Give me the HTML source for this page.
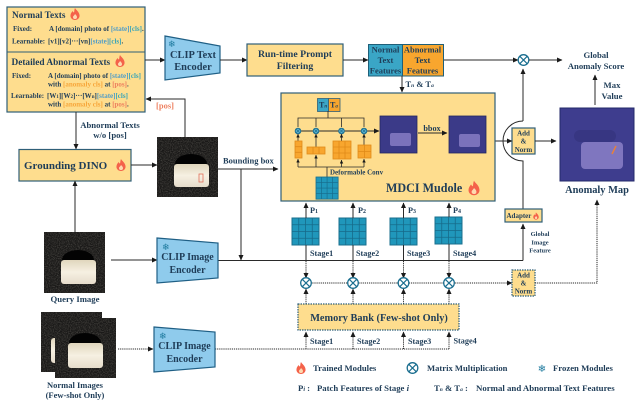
<!DOCTYPE html>
<html><head><meta charset="utf-8"><style>
html,body{margin:0;padding:0;background:#fff}
svg{display:block}
text{font-family:"Liberation Serif",serif;font-weight:bold;fill:#1f3d58}
.l{stroke:#2a2a2a;stroke-width:1;fill:none}
.a{stroke:#2a2a2a;stroke-width:1;fill:none;marker-end:url(#ah)}
.t{stroke:#2a2a2a;stroke-width:.8;fill:none;marker-end:url(#as)}
.d{stroke:#2a2a2a;stroke-width:1;fill:none;stroke-dasharray:1.2 .9}
.da{stroke:#2a2a2a;stroke-width:1;fill:none;stroke-dasharray:1.2 .9;marker-end:url(#ah)}
.y{fill:#fedd8e;stroke:#2f5f78;stroke-width:1.2}
.yd{fill:#fedd8e;stroke:#2f5f78;stroke-width:1.2;stroke-dasharray:1.5 1}
.b{fill:#8fcbec;stroke:#1f5f85;stroke-width:1.2}
.m{text-anchor:middle}
.s{fill:#4f9cc8}.c{fill:#3aa5b8}.o{fill:#f7a63a}.p{fill:#ee8060}
.sf{font-family:"DejaVu Sans",sans-serif;font-weight:normal;fill:#1e7a9e}
</style></head><body>
<svg width="640" height="407" viewBox="0 0 640 407" xmlns="http://www.w3.org/2000/svg">
<defs>
<marker id="ah" markerUnits="userSpaceOnUse" markerWidth="6" markerHeight="6" refX="5" refY="2.5" orient="auto"><path d="M0 0L5.500 2.500L0 5Z" fill="#1a1a1a"/></marker>
<marker id="as" markerUnits="userSpaceOnUse" markerWidth="4" markerHeight="4" refX="3.500" refY="1.750" orient="auto"><path d="M0 0L3.500 1.750L0 3.500Z" fill="#1a1a1a"/></marker>
<filter id="n" x="0" y="0" width="100%" height="100%" color-interpolation-filters="sRGB"><feTurbulence type="fractalNoise" baseFrequency=".9" numOctaves="2" seed="3"/><feColorMatrix values="0 0 0 0 .34  0 0 0 0 .33  0 0 0 0 .31  0 0 0 1.600 -.62"/><feComposite in2="SourceGraphic" operator="over"/></filter>
<linearGradient id="cr" x1="0" y1="0" x2="0" y2="1"><stop offset="0" stop-color="#e0d6bd"/><stop offset=".5" stop-color="#f6f0e2"/><stop offset="1" stop-color="#e6dccb"/></linearGradient>
<g id="fl"><path d="M0 -6C1 -4 4 -2.500 4.500 1C5 4 2.500 6 0 6C-2.500 6 -5 4 -4.500 1C-4.200 -1 -3 -2 -2.500 -3C-2 -2 -1.500 -1.500 -1 -1.500C-.5 -3 -.8 -4.500 0 -6Z" fill="#f4624a"/><path d="M0 0C1 1 2.200 2 2 3.500C1.800 4.800 .8 5 0 5C-1 5 -2 4.500 -2 3.200C-2 2 -.6 1.500 0 0Z" fill="#fdd9b0"/></g>
<g id="gr"><rect width="27" height="27" fill="#2097bb" stroke="#1a6f8e" stroke-width="1"/><path d="M6.750 0V27M13.500 0V27M20.250 0V27M0 6.750H27M0 13.500H27M0 20.250H27" stroke="#176b8a" stroke-width=".8"/></g>
<g id="x"><circle r="5.300" fill="#fff" stroke="#1c6f90" stroke-width="1.300"/><path d="M-3.700 -3.700L3.700 3.700M-3.700 3.700L3.700 -3.700" stroke="#1c6f90" stroke-width="1.200"/></g>
<g id="xs"><circle r="2.800" fill="#5fb4cf" stroke="#1c6f90" stroke-width="1"/><path d="M-2 -2L2 2M-2 2L2 -2" stroke="#1c6f90" stroke-width=".7"/></g>
<g id="hs"><rect width="37" height="37" fill="#3b3a88" stroke="#23265f" stroke-width=".8"/></g>
</defs>
<rect width="640" height="407" fill="#fff"/>

<!-- prompt boxes -->
<rect class="y" x="7" y="7" width="138" height="105"/>
<line x1="7" y1="52" x2="145" y2="52" stroke="#2f5f78" stroke-width="1"/>
<text x="12" y="18" font-size="9.300">Normal Texts</text>
<use href="#fl" x="75" y="14"/>
<text x="13" y="31" font-size="7">Fixed:</text>
<text x="49" y="31" font-size="7">A [domain] photo of <tspan class="s">[state]</tspan><tspan class="c">[cls]</tspan>.</text>
<text x="12" y="43.500" font-size="7">Learnable:</text>
<text x="48" y="43.500" font-size="7">[v1][v2]···[vn]<tspan class="s">[state]</tspan><tspan class="c">[cls]</tspan>.</text>
<text x="11.500" y="65" font-size="9.300">Detailed Abnormal Texts</text>
<use href="#fl" x="120" y="61"/>
<text x="12" y="78" font-size="7">Fixed:</text>
<text x="48" y="78" font-size="7">A [domain] photo of <tspan class="s">[state]</tspan><tspan class="c">[cls]</tspan></text>
<text x="48" y="86.500" font-size="7">with <tspan class="o">[anomaly cls]</tspan> at <tspan class="p">[pos]</tspan>.</text>
<text x="11" y="98" font-size="7">Learnable:</text>
<text x="47" y="98" font-size="7">[W<tspan font-size="5">1</tspan>][W<tspan font-size="5">2</tspan>]···[W<tspan font-size="5">n</tspan>]<tspan class="s">[state]</tspan><tspan class="c">[cls]</tspan></text>
<text x="48" y="106.500" font-size="7">with <tspan class="o">[anomaly cls]</tspan> at <tspan class="p">[pos]</tspan>.</text>

<path class="a" d="M145 60H165"/>
<path class="b" d="M165 36L220 46V73L165 80Z"/>
<text x="168" y="47" font-size="9" class="sf">❄</text>
<text x="193" y="58" font-size="10.400" class="m">CLIP Text</text>
<text x="193" y="70" font-size="10.400" class="m">Encoder</text>
<path class="a" d="M220 60H247"/>
<rect class="y" x="247" y="44" width="96" height="32"/>
<text x="295" y="57" font-size="9.800" class="m">Run-time Prompt</text>
<text x="295" y="69" font-size="9.800" class="m">Filtering</text>
<path class="a" d="M343 60H368"/>
<rect x="368.500" y="44.500" width="34" height="31.500" fill="#3aa6c6" stroke="#1f5f78" stroke-width="1"/>
<rect x="402.500" y="44.500" width="41" height="31.500" fill="#f8a62e" stroke="#1f5f78" stroke-width="1"/>
<g font-size="8.500" text-anchor="middle">
<text x="385.500" y="52.500">Normal</text><text x="385.500" y="63">Text</text><text x="385.500" y="73.500">Features</text>
<text x="422.500" y="52.500">Abnormal</text><text x="422.500" y="63">Text</text><text x="422.500" y="73.500">Features</text>
</g>
<path class="a" d="M402 76V92"/>
<text x="405.500" y="87" font-size="8.500">T<tspan font-size="5.500" font-style="italic">n</tspan> &amp; T<tspan font-size="5.500" font-style="italic">a</tspan></text>
<path class="a" d="M444 60H518"/>
<use href="#x" x="523.500" y="60"/>
<path class="a" d="M529 60H562"/>
<text x="596" y="58" font-size="8.700" class="m">Global</text>
<text x="596" y="69" font-size="8.700" class="m">Anomaly Score</text>
<path class="a" d="M595 105V75"/>
<text x="612" y="88" font-size="8.700" class="m">Max</text>
<text x="612" y="99" font-size="8.700" class="m">Value</text>

<!-- anomaly map -->
<rect x="560" y="108" width="74" height="73" fill="#3e3d8e" stroke="#23296a" stroke-width="1"/>
<rect x="574" y="130" width="42" height="12" rx="6" fill="#373682"/>
<rect x="581" y="142" width="42" height="27" rx="4" fill="#7f76bf"/>
<path d="M612 154L616 146" stroke="#e8803a" stroke-width="1.500"/>
<text x="597" y="193" font-size="10.400" class="m">Anomaly Map</text>

<!-- add norm + arc -->
<path class="a" d="M523 121V69"/>
<path class="l" d="M523 121A20 20 0 0 0 523 161V209"/>
<rect class="y" x="512" y="128" width="23" height="26"/>
<text x="523.500" y="135.500" font-size="7" class="m">Add</text>
<text x="523.500" y="143.500" font-size="7" class="m">&amp;</text>
<text x="523.500" y="152" font-size="7" class="m">Norm</text>
<path class="a" d="M495 141H512"/>
<path class="a" d="M535 141H556"/>
<rect class="y" x="505" y="209" width="37" height="13"/>
<text x="506.500" y="218" font-size="7">Adapter</text>
<g transform="translate(536 216) scale(.6)"><use href="#fl"/></g>
<path class="a" d="M523 260.500V224"/>
<text x="540" y="236" font-size="6.500" class="m">Global</text>
<text x="540" y="244.500" font-size="6.500" class="m">Image</text>
<text x="540" y="252.500" font-size="6.500" class="m">Feature</text>

<!-- MDCI -->
<rect class="y" x="281" y="93" width="214" height="108"/>
<rect x="317.500" y="98.500" width="11" height="13" fill="#3aa6c6" stroke="#2f5f78" stroke-width=".8"/>
<rect x="328.500" y="98.500" width="11.500" height="13" fill="#f8a62e" stroke="#2f5f78" stroke-width=".8"/>
<text x="319" y="107.500" font-size="8">T<tspan font-size="5" font-style="italic">n</tspan></text><text x="330" y="107.500" font-size="8">T<tspan font-size="5" font-style="italic">a</tspan></text>
<path d="M328 111V118M298 127V118H364V127M316 118V127M341.500 118V127" stroke="#2a2a2a" stroke-width=".8" fill="none"/>
<path class="a" d="M295 131H379"/>
<use href="#xs" x="298" y="131"/><use href="#xs" x="316" y="131"/><use href="#xs" x="341.500" y="131"/><use href="#xs" x="364" y="131"/>
<path class="t" d="M298 141V134"/><path class="t" d="M316 147V134"/><path class="t" d="M341.500 141V134"/><path class="t" d="M364 145V134"/>
<path d="M298 167H364M327 167V177" stroke="#2a2a2a" stroke-width=".8" fill="none"/>
<path class="t" d="M298 167V159"/><path class="t" d="M316 167V155"/><path class="t" d="M341.500 167V160"/><path class="t" d="M364 167V159"/>
<g fill="#f8a62e" stroke="#e08a18" stroke-width=".8">
<rect x="295" y="141" width="7" height="17"/><path d="M295 146.700H302M295 152.300H302" fill="none"/>
<rect x="307" y="147" width="18" height="7"/><path d="M313 147V154M319 147V154" fill="none"/>
<rect x="333" y="141" width="18" height="18"/><path d="M339 141V159M345 141V159M333 147H351M333 153H351" fill="none"/>
<rect x="358" y="145" width="13" height="13"/><path d="M364.500 145V158M358 151.500H371" fill="none"/>
</g>
<g transform="translate(316 177) scale(.82)"><use href="#gr"/></g>
<text x="330" y="174.500" font-size="7">Deformable Conv</text>
<use href="#hs" x="380" y="116"/>
<rect x="390" y="133" width="21" height="13" rx="2" fill="#7b72bb"/>
<path class="a" d="M418 133H447"/>
<text x="432" y="131" font-size="8.200" class="m">bbox</text>
<use href="#hs" x="449" y="116"/>
<rect x="459" y="134" width="21" height="13" rx="2" fill="#7b72bb"/>
<text x="386" y="192" font-size="12.100">MDCI Mudole</text>
<g transform="translate(474 188) scale(1.200)"><use href="#fl"/></g>

<!-- patches -->
<use href="#gr" x="292" y="218"/><use href="#gr" x="339" y="218"/><use href="#gr" x="390" y="218"/><use href="#gr" x="435" y="217"/>
<g font-size="8.200">
<text x="310" y="213">P<tspan font-size="6">1</tspan></text><text x="358" y="213">P<tspan font-size="6">2</tspan></text><text x="408" y="213">P<tspan font-size="6">3</tspan></text><text x="453" y="213">P<tspan font-size="6">4</tspan></text>
<text x="310" y="256">Stage1</text><text x="356" y="256">Stage2</text><text x="407" y="256">Stage3</text><text x="453" y="256">Stage4</text>
<text x="310" y="344">Stage1</text><text x="357" y="344">Stage2</text><text x="408" y="344">Stage3</text><text x="453.500" y="343.500">Stage4</text>
</g>
<path class="a" d="M306 218V203"/><path class="a" d="M353 218V203"/><path class="a" d="M403.500 218V203"/><path class="a" d="M449 217V203"/>
<path class="l" d="M306 245V261M353 245V261M403.500 245V261M449 244V261"/>
<path class="l" d="M218 260.500H523"/>
<path class="da" d="M306 261V278"/><path class="da" d="M353 261V278"/><path class="da" d="M403.500 261V278"/><path class="da" d="M449 261V278"/>
<path class="da" d="M306 283H512"/>
<path class="da" d="M306 304V289"/><path class="da" d="M353 304V289"/><path class="da" d="M403.500 304V289"/><path class="da" d="M449 304V289"/>
<use href="#x" x="306" y="283"/><use href="#x" x="353" y="283"/><use href="#x" x="403.500" y="283"/><use href="#x" x="449" y="283"/>
<rect class="yd" x="512" y="270" width="23" height="26"/>
<text x="523.500" y="277.500" font-size="7" class="m">Add</text>
<text x="523.500" y="285.500" font-size="7" class="m">&amp;</text>
<text x="523.500" y="293.500" font-size="7" class="m">Norm</text>
<path class="da" d="M535 283H597V200"/>
<rect class="yd" x="298" y="304" width="161" height="26"/>
<text x="379" y="321" font-size="10.300" class="m">Memory Bank (Few-shot Only)</text>
<path class="d" d="M215 349H449"/>
<path class="da" d="M306 349V332"/><path class="da" d="M353 349V332"/><path class="da" d="M403.500 349V332"/><path class="da" d="M449 349V332"/>

<!-- left flow -->
<path class="a" d="M76 112V149"/>
<text x="110" y="128" font-size="8.700" class="m">Abnormal Texts</text>
<text x="110" y="138" font-size="8.700" class="m">w/o [pos]</text>
<rect class="y" x="19" y="149.500" width="112" height="31.500"/>
<text x="24" y="169" font-size="11">Grounding DINO</text>
<use href="#fl" x="121" y="165"/>
<path class="a" d="M131 165H157"/>
<path class="a" d="M185 137V99H146"/>
<text x="165" y="108.500" font-size="8.500" class="m p">[pos]</text>

<g transform="translate(157 137)"><rect width="61" height="60" fill="#1a1918" filter="url(#n)"/><ellipse cx="34" cy="27" rx="16" ry="10" fill="#030303"/><rect x="17" y="27" width="35" height="23" rx="3" fill="url(#cr)"/><rect x="42" y="37" width="4" height="8" fill="none" stroke="#e0705a" stroke-width=".8"/></g>
<path class="a" d="M218 169H278"/>
<text x="223" y="163.500" font-size="8.500">Bounding box</text>
<path class="a" d="M241 169V260"/>

<g transform="translate(44 232)"><rect width="61" height="61" fill="#1a1918" filter="url(#n)"/><ellipse cx="34" cy="28" rx="16" ry="10" fill="#030303"/><rect x="17" y="28" width="35" height="24" rx="3" fill="url(#cr)"/></g>
<path class="a" d="M75 232V181"/>
<text x="75" y="302" font-size="8.700" class="m">Query Image</text>
<path class="a" d="M111 260H157"/>
<path class="b" d="M157 238L218 243V278L157 283Z"/>
<text x="162" y="250" font-size="9" class="sf">❄</text>
<text x="187.500" y="260" font-size="10" class="m">CLIP Image</text>
<text x="187.500" y="273" font-size="10" class="m">Encoder</text>

<g transform="translate(41 312)"><rect width="61" height="60" fill="#1a1918" filter="url(#n)"/><rect x="10" y="26" width="35" height="25" rx="3" fill="url(#cr)"/></g>
<g transform="translate(55 318)"><rect width="61" height="60" fill="#1a1918" filter="url(#n)"/><ellipse cx="30" cy="25" rx="16" ry="10" fill="#030303"/><rect x="13" y="25" width="35" height="25" rx="3" fill="url(#cr)"/></g>
<text x="75" y="388" font-size="8.500" class="m">Normal Images</text>
<text x="75" y="398" font-size="8.500" class="m">(Few-shot Only)</text>
<path class="da" d="M118 349H153"/>
<path class="b" d="M154 327L215 332V367L154 372Z"/>
<text x="159" y="339" font-size="9" class="sf">❄</text>
<text x="184.500" y="349" font-size="10" class="m">CLIP Image</text>
<text x="184.500" y="362" font-size="10" class="m">Encoder</text>

<!-- legend -->
<use href="#fl" x="301" y="368"/>
<text x="313" y="371" font-size="8.700">Trained Modules</text>
<use href="#x" x="412.500" y="368"/>
<text x="427" y="371" font-size="8.600">Matrix Multiplication</text>
<text x="542" y="372" font-size="10" class="m sf">❄</text>
<text x="553" y="371" font-size="8.700">Frozen Modules</text>
<text x="298" y="391" font-size="8.700">P<tspan font-size="6" font-style="italic">i</tspan> :</text>
<text x="317" y="391" font-size="8.700">Patch Features of Stage <tspan font-style="italic">i</tspan></text>
<text x="434" y="391" font-size="8.700">T<tspan font-size="5.500" font-style="italic">n</tspan> &amp; T<tspan font-size="5.500" font-style="italic">a</tspan> :</text>
<text x="476" y="391" font-size="8.800">Normal and Abnormal Text Features</text>
</svg>
</body></html>
